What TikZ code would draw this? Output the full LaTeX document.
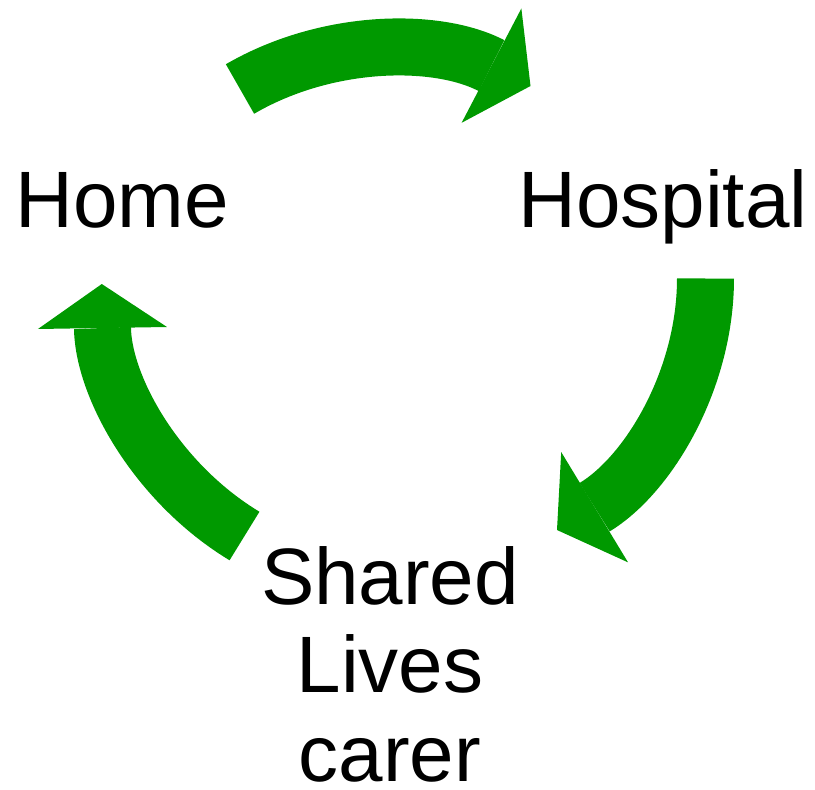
\documentclass[tikz,border=0pt]{standalone}
\usepackage{fontspec}
\setmainfont{Liberation Sans}
\usetikzlibrary{arrows.meta}
\definecolor{cyclegreen}{RGB}{0,153,0}
\tikzset{
  cycarrow/.style={color=cyclegreen, line width=57pt, line cap=butt,
    -{Triangle[width=129pt,length=44pt,line width=0pt]}},
  place/.style={font=\fontsize{80}{88.5}\selectfont, inner sep=0pt, anchor=base, align=center}
}

\begin{document}
\begin{tikzpicture}[x=1pt,y=1pt,yscale=-1]
\useasboundingbox (0,0) rectangle (815,790);

% Text Node
\node [place] (home) at (122,227) {Home};
% Text Node
\node [place] (hospital) at (663,227) {Hospital};
% Text Node (base is the last line)
\node [place] (shared) at (390,781) {Shared\\Lives\\carer};

%Curve Lines: home to hospital
\coordinate (homeout) at (240,89);
\coordinate (hospin) at (530.5,86);
\draw [cycarrow] (homeout) .. controls (327.2,38.2) and (437.3,37.3) .. (hospin);
%Curve Lines: hospital to shared lives
\coordinate (hospout) at (705.5,278.5);
\coordinate (sharedin) at (557,530);
\draw [cycarrow] (hospout) .. controls (705.5,378.8) and (649.1,474.2) .. (sharedin);
%Curve Lines: shared lives to home
\coordinate (sharedout) at (244.5,536);
\coordinate (homein) at (101.8,284);
\draw [cycarrow] (sharedout) .. controls (157.6,483.5) and (103.4,387.8) .. (homein);

\end{tikzpicture}
\end{document}
